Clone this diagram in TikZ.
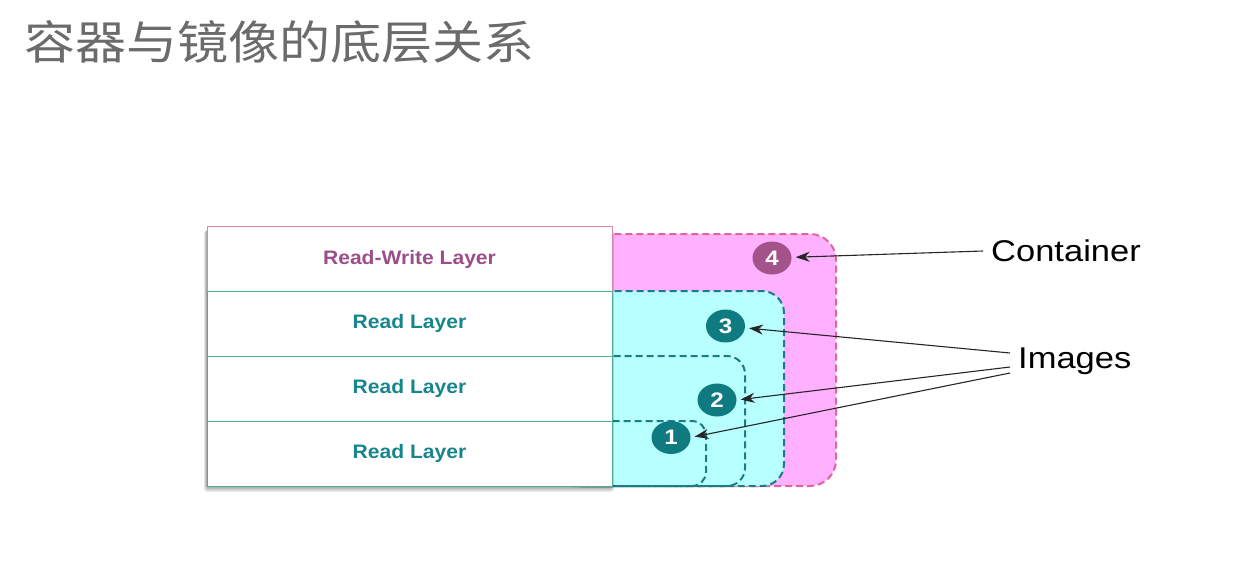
\documentclass[tikz,border=0pt]{standalone}
\usepackage{fontspec}
\setmainfont{Liberation Sans}
\newfontfamily\cjk[FakeStretch=1.11]{Noto Sans CJK SC}
\newfontfamily\layerfont[FakeStretch=1.08]{Liberation Sans}
\newfontfamily\labelfont[FakeStretch=1.15]{Liberation Sans}
\usetikzlibrary{arrows.meta,shapes.geometric}
\definecolor{titlegray}{HTML}{6B6B6B}
\definecolor{cpink}{HTML}{FFB0FF}
\definecolor{cpinkline}{HTML}{E0669A}
\definecolor{icyan}{HTML}{B8FFFF}
\definecolor{ilineteal}{HTML}{1A7C84}
\definecolor{rwline}{HTML}{D98AA8}
\definecolor{rline}{HTML}{4FAE8F}
\definecolor{rwtext}{HTML}{9B4F88}
\definecolor{rtext}{HTML}{17868C}
\definecolor{numpurple}{HTML}{A3528A}
\definecolor{numteal}{HTML}{0F7B80}

\begin{document}
\begin{tikzpicture}[x=1pt,y=-1pt,
    area/.style={dash pattern=on 7pt off 4pt, line width=2pt},
    layer/.style={draw=#1, fill=white, line width=1pt, minimum width=405pt,
      minimum height=65pt, inner sep=0pt,
      font=\layerfont\bfseries\fontsize{19.5}{22}\selectfont},
    num/.style={ellipse, fill=#1, text=white, minimum width=39pt, minimum height=33pt,
      inner sep=0pt, font=\labelfont\bfseries\fontsize{21}{24}\selectfont},
    callout/.style={anchor=west, inner xsep=8pt, font=\labelfont\fontsize{30}{34}\selectfont}]
    \useasboundingbox (0,0) rectangle (1245,573);
    \node[anchor=west, inner sep=0pt, text=titlegray, font=\cjk\fontsize{46}{50}\selectfont] (title) at (24,42) {容器与镜像的底层关系};

    % container and image areas
    \path[draw=cpinkline, fill=cpink, area, rounded corners=26pt] (560,234) rectangle (836,486);
    \path[draw=ilineteal, fill=icyan, area, rounded corners=22pt] (560,291) rectangle (784,486);
    \path[draw=ilineteal, area, rounded corners=18pt] (560,356) rectangle (745,486);
    \path[draw=ilineteal, area, rounded corners=14pt] (560,421) rectangle (706,486);

    % soft shadow under the stack
    \foreach \s in {1,2,...,6}
      \fill[black, opacity=0.07, rounded corners=3pt] (207-\s/2,230) rectangle (612+\s/3,486+\s);
    \node[layer=rwline, text=rwtext] (rw) at (409.5,259) {Read-Write Layer};
    \node[layer=rline, text=rtext] (r3) at (409.5,323.5) {Read Layer};
    \node[layer=rline, text=rtext] (r2) at (409.5,388.5) {Read Layer};
    \node[layer=rline, text=rtext] (r1) at (409.5,453.5) {Read Layer};

    \node[num=numpurple] (n4) at (772,258) {4};
    \node[num=numteal] (n3) at (725.5,326) {3};
    \node[num=numteal] (n2) at (717,400) {2};
    \node[num=numteal] (n1) at (671,437.5) {1};

    \node[callout] (cont) at (983,251) {Container};
    \node[callout] (imgs) at (1010,361) {Images};

    \path[-{Stealth[length=14pt,width=10pt]}, black!85, line width=1.1pt, shorten >=4pt]
    (cont.west) edge (n4)
    ([yshift=8pt]imgs.west) edge (n3)
    ([yshift=-6pt]imgs.west) edge (n2.east)
    ([yshift=-12pt]imgs.west) edge (n1.east);
\end{tikzpicture}
\end{document}
